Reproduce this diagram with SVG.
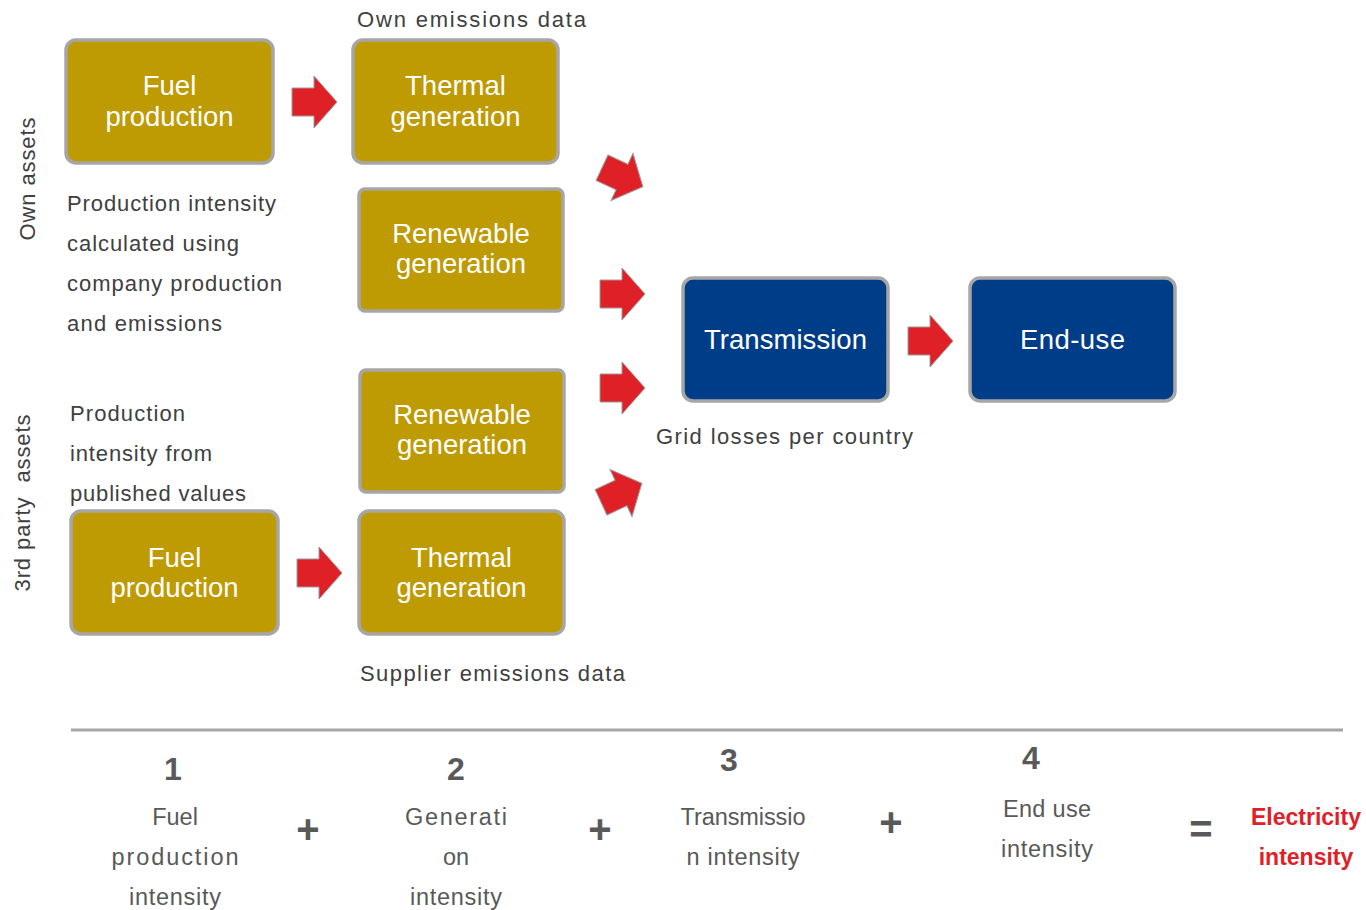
<svg xmlns="http://www.w3.org/2000/svg" width="1366" height="910" viewBox="0 0 1366 910">
<style>
.gold{fill:#BE9A03;stroke:#A6A6A6;stroke-width:3.5}
.blue{fill:#003D88;stroke:#A6A6A6;stroke-width:3.5}
.bt{font-family:"Liberation Sans",Arial,sans-serif;font-size:27.5px;fill:#FFFFFF;text-anchor:middle}
.lbl{font-family:"Liberation Sans",Arial,sans-serif;font-size:22px;fill:#404040}
.num{font-family:"Liberation Sans",Arial,sans-serif;font-size:32px;font-weight:bold;fill:#595959;text-anchor:middle}
.sub{font-family:"Liberation Sans",Arial,sans-serif;font-size:23.5px;fill:#595959;text-anchor:middle}
.op{font-family:"Liberation Sans",Arial,sans-serif;font-size:40px;font-weight:bold;fill:#595959;text-anchor:middle}
.res{font-family:"Liberation Sans",Arial,sans-serif;font-size:23px;font-weight:bold;fill:#E02027;text-anchor:middle}
.arr{fill:#E02027;stroke:#9A9A9A;stroke-width:1}
</style>
<defs>
<polygon id="ar" points="-22,-14 0,-14 0,-26 23,0 0,26 0,14 -22,14"/>
</defs>
<rect width="1366" height="910" fill="#FFFFFF"/>

<g id="own-fuel"><rect class="gold" x="66" y="40" width="207" height="123" rx="10"/><text class="bt" x="169.5" y="95">Fuel</text><text class="bt" x="169.5" y="126" textLength="128" lengthAdjust="spacing">production</text></g>
<g id="own-thermal"><rect class="gold" x="353" y="40" width="205" height="123" rx="10"/><text class="bt" x="455.5" y="95">Thermal</text><text class="bt" x="455.5" y="126" textLength="130" lengthAdjust="spacing">generation</text></g>
<g id="own-renew"><rect class="gold" x="359" y="189" width="204" height="122" rx="6" stroke-width="5"/><text class="bt" x="461" y="243">Renewable</text><text class="bt" x="461" y="273">generation</text></g>
<g id="tp-renew"><rect class="gold" x="360" y="370" width="204" height="122" rx="6" stroke-width="5"/><text class="bt" x="462" y="424">Renewable</text><text class="bt" x="462" y="454">generation</text></g>
<g id="tp-fuel"><rect class="gold" x="71" y="511" width="207" height="123" rx="10"/><text class="bt" x="174.5" y="567">Fuel</text><text class="bt" x="174.5" y="597" textLength="128" lengthAdjust="spacing">production</text></g>
<g id="tp-thermal"><rect class="gold" x="359" y="511" width="205" height="123" rx="10"/><text class="bt" x="461.5" y="567">Thermal</text><text class="bt" x="461.5" y="597" textLength="130" lengthAdjust="spacing">generation</text></g>
<g id="transmission"><rect class="blue" x="683" y="278" width="205" height="123" rx="10"/><text class="bt" x="785.5" y="349" textLength="163" lengthAdjust="spacing">Transmission</text></g>
<g id="enduse"><rect class="blue" x="970" y="278" width="205" height="123" rx="10"/><text class="bt" x="1072.5" y="349" textLength="105" lengthAdjust="spacing">End-use</text></g>

<g id="connectors">
<use href="#ar" class="arr" transform="translate(314,102)"/>
<use href="#ar" class="arr" transform="translate(319,573)"/>
<use href="#ar" class="arr" transform="translate(930,341)"/>
<use href="#ar" class="arr" transform="translate(622,294)"/>
<use href="#ar" class="arr" transform="translate(622,388)"/>
<use href="#ar" class="arr" transform="translate(622,177) rotate(25)"/>
<use href="#ar" class="arr" transform="translate(621,493) rotate(-25)"/>
</g>

<g id="labels">
<text class="lbl" x="357" y="27" textLength="229" lengthAdjust="spacing">Own emissions data</text>
<text class="lbl" x="67" y="211" textLength="209" lengthAdjust="spacing">Production intensity</text>
<text class="lbl" x="67" y="251" textLength="172" lengthAdjust="spacing">calculated using</text>
<text class="lbl" x="67" y="291" textLength="215" lengthAdjust="spacing">company production</text>
<text class="lbl" x="67" y="331" textLength="155" lengthAdjust="spacing">and emissions</text>
<text class="lbl" x="70" y="421" textLength="115" lengthAdjust="spacing">Production</text>
<text class="lbl" x="70" y="461" textLength="142" lengthAdjust="spacing">intensity from</text>
<text class="lbl" x="70" y="501" textLength="176" lengthAdjust="spacing">published values</text>
<text class="lbl" x="360" y="681" textLength="265" lengthAdjust="spacing">Supplier emissions data</text>
<text class="lbl" x="656" y="444" textLength="257" lengthAdjust="spacing">Grid losses per country</text>
<text class="lbl" transform="translate(35,179) rotate(-90)" text-anchor="middle" textLength="123" lengthAdjust="spacing">Own assets</text>
<text class="lbl" transform="translate(30,503) rotate(-90)" text-anchor="middle" xml:space="preserve" textLength="177" lengthAdjust="spacing">3rd party  assets</text>
</g>

<g id="formula">
<line x1="71" y1="730" x2="1343" y2="730" stroke="#A6A6A6" stroke-width="3"/>
<text class="num" x="173" y="780">1</text>
<text class="num" x="456" y="780">2</text>
<text class="num" x="729" y="771">3</text>
<text class="num" x="1031" y="769">4</text>
<text class="sub" x="175" y="825">Fuel</text>
<text class="sub" x="175" y="865" textLength="127" lengthAdjust="spacing">production</text>
<text class="sub" x="175" y="905" textLength="92" lengthAdjust="spacing">intensity</text>
<text class="sub" x="456" y="825" textLength="102" lengthAdjust="spacing">Generati</text>
<text class="sub" x="456" y="865">on</text>
<text class="sub" x="456" y="905" textLength="92" lengthAdjust="spacing">intensity</text>
<text class="sub" x="743" y="825" textLength="125" lengthAdjust="spacing">Transmissio</text>
<text class="sub" x="743" y="865" textLength="113" lengthAdjust="spacing">n intensity</text>
<text class="sub" x="1047" y="817" textLength="88" lengthAdjust="spacing">End use</text>
<text class="sub" x="1047" y="857" textLength="92" lengthAdjust="spacing">intensity</text>
<text class="op" x="308" y="843">+</text>
<text class="op" x="600" y="843">+</text>
<text class="op" x="891" y="836">+</text>
<text class="op" x="1201" y="843">=</text>
<text class="res" x="1306" y="825">Electricity</text>
<text class="res" x="1306" y="865">intensity</text>
</g>
</svg>
